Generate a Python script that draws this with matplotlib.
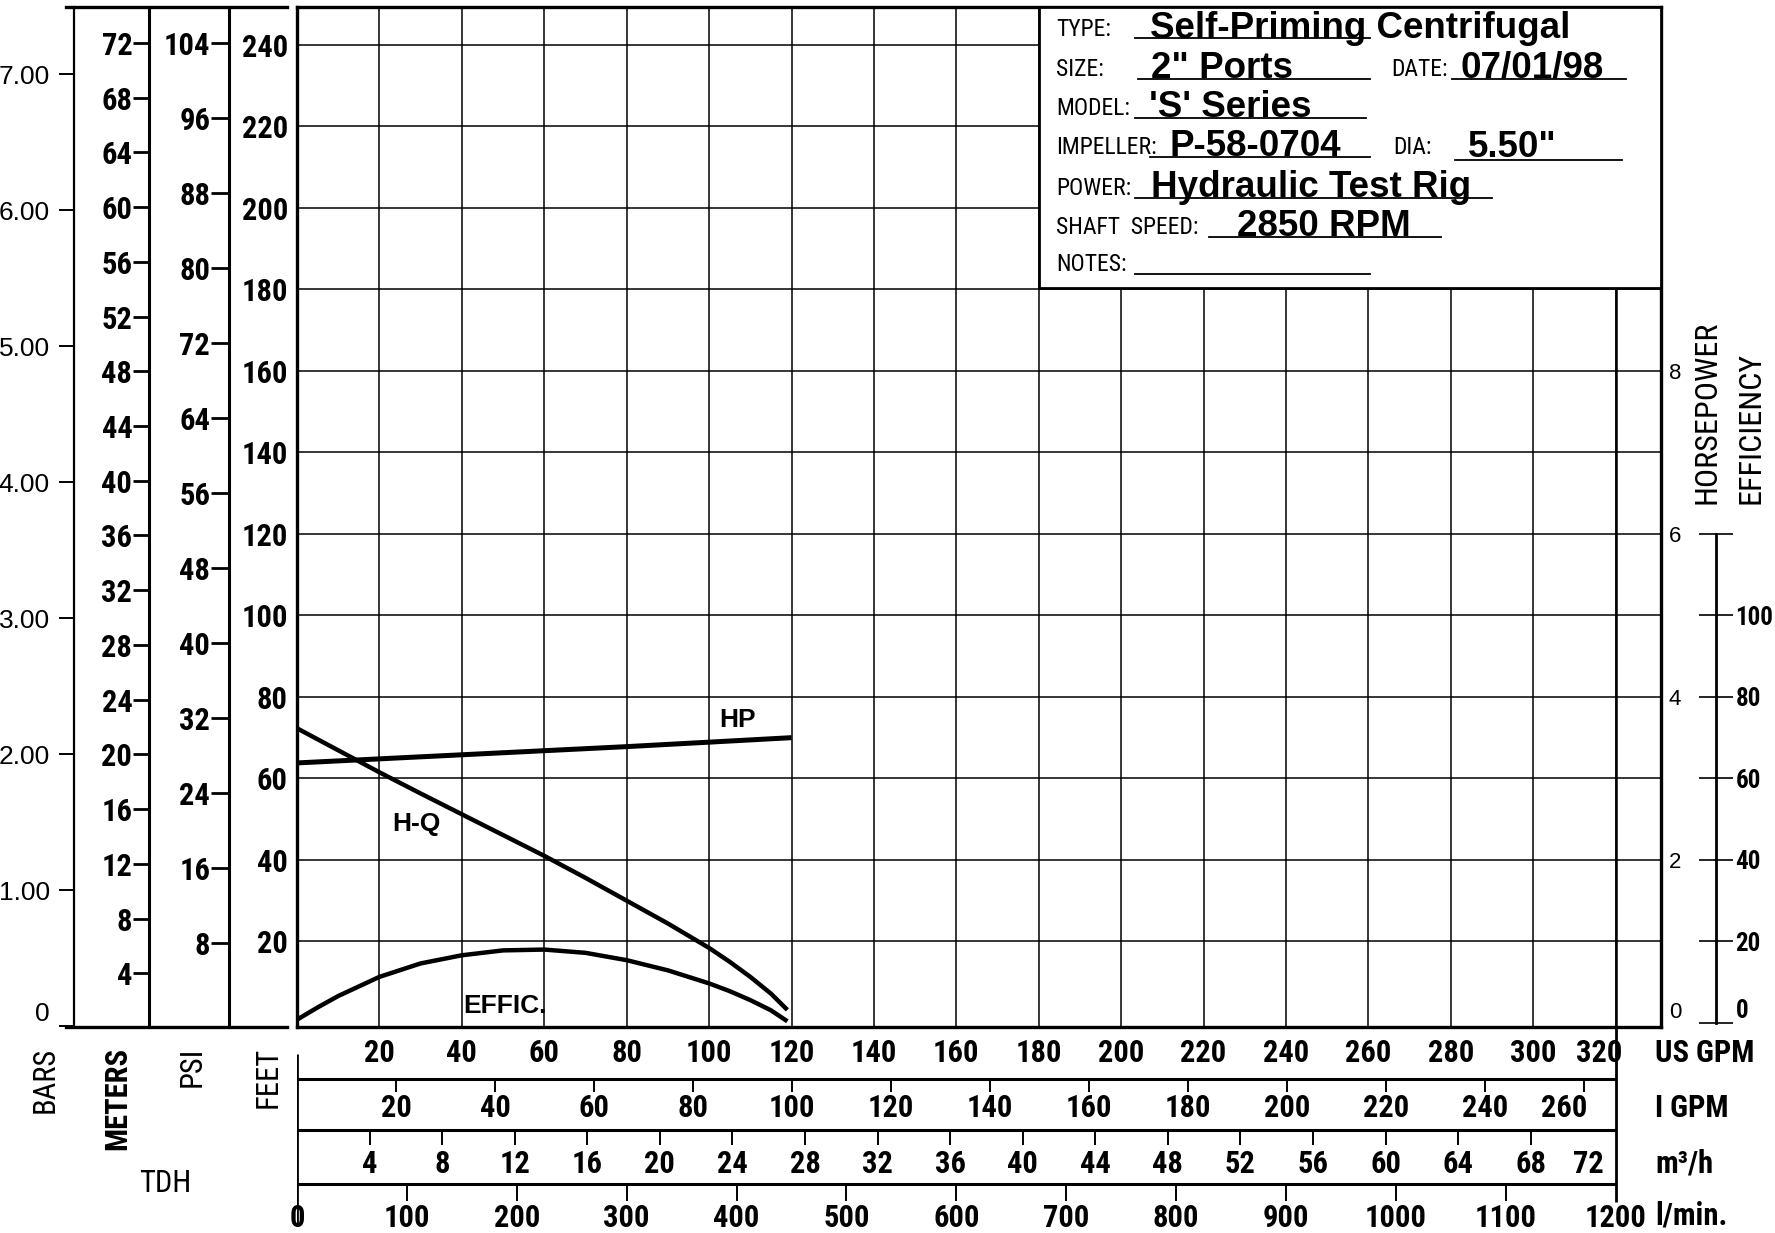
import matplotlib.pyplot as plt
from matplotlib import font_manager as fm

# curves, x in US GPM
hq_gpm = [0, 10, 20, 30, 40, 50, 60, 70, 80, 90, 100, 105, 110, 115, 119]
hq_feet = [72.3, 66.9, 61.5, 56.3, 51.2, 46.1, 41.0, 35.6, 30.0, 24.4, 18.4, 15.0, 11.3, 7.2, 3.2]

hp_gpm = [0, 40, 80, 120]
hp_val = [3.19, 3.29, 3.39, 3.50]

eff_gpm = [0, 5, 10, 20, 30, 40, 50, 60, 70, 80, 90, 100, 105, 110, 115, 119]
eff_pct = [0.8, 3.8, 6.6, 11.3, 14.6, 16.6, 17.8, 18.0, 17.2, 15.4, 12.9, 9.7, 7.8, 5.6, 3.1, 0.4]

# scales
bars_ticks = [0, 1, 2, 3, 4, 5, 6, 7]
meters_ticks = list(range(4, 73, 4))
psi_ticks = list(range(8, 105, 8))
feet_ticks = list(range(20, 241, 20))
hp_ticks = [0, 2, 4, 6, 8]
eff_ticks = [0, 20, 40, 60, 80, 100, 120]
us_gpm_ticks = list(range(20, 321, 20))
imp_gpm_ticks = list(range(20, 261, 20))
m3h_ticks = list(range(4, 73, 4))
lmin_ticks = list(range(0, 1201, 100))

IMP = 1.20095      # US gal per imperial gal
M3H = 4.40287      # US GPM per m3/h
LMIN = 320 / 1200  # the chart ends its l/min scale on the 320 GPM line

info_labels = ["TYPE:", "SIZE:", "MODEL:", "IMPELLER:", "POWER:", "SHAFT  SPEED:", "NOTES:"]
info_values = ["Self-Priming Centrifugal", '2" Ports', "'S' Series", "P-58-0704",
               "Hydraulic Test Rig", "2850 RPM", ""]


def pick_narrow():
    cands = [("Liberation Sans Narrow", "normal"), ("Arial Narrow", "normal"),
             ("Roboto Condensed", "normal"), ("Open Sans Condensed", "normal"),
             ("Noto Sans Condensed", "normal"), ("DejaVu Sans", "condensed"),
             ("Noto Sans", "condensed"), ("Open Sans", "condensed"),
             ("Roboto", "condensed")]
    for fam, st in cands:
        try:
            path = fm.findfont(fm.FontProperties(family=fam, stretch=st),
                               fallback_to_default=False)
        except ValueError:
            continue
        if st == "normal" or "ondensed" in path or "arrow" in path:
            return fam, st, 1.0
    return "Liberation Sans", "normal", 0.86


NARROW, STRETCH, NS = pick_narrow()
WIDE = "Liberation Sans"
plt.rcParams["font.family"] = [NARROW, "DejaVu Sans"]
plt.rcParams["font.stretch"] = STRETCH

W, H = 1775, 1233
fig = plt.figure(figsize=(W / 100, H / 100), dpi=100)


def box(l, t, r, b):
    return [l / W, 1 - b / H, (r - l) / W, (b - t) / H]


L, T, R, B = 297, 7, 1661, 1027
FS = 22 * NS

# main plot (feet of head)
ax = fig.add_axes(box(L, T, R, B))
ax.set_xlim(0, 331)
ax.set_ylim(-1, 249.3)
ax.set_xticks(us_gpm_ticks)
ax.set_yticks(feet_ticks)
ax.grid(True, color="black", lw=1.1)
ax.axvline(320, color="black", lw=1.8)
ax.tick_params(axis="x", length=0, labelbottom=False)
ax.tick_params(axis="y", length=0, pad=6.5, labelsize=FS)
for t in ax.get_yticklabels():
    t.set_fontweight("bold")
for s in ax.spines.values():
    s.set_linewidth(2.4)
ax.plot(hq_gpm, hq_feet, color="black", lw=3.2, solid_capstyle="butt")
for txt, x, y in [("HP", 107, 74.4), ("H-Q", 29.1, 48.8), ("EFFIC.", 50.5, 4.2)]:
    ax.text(x, y, txt, fontsize=19, fontweight="bold", family=WIDE, fontstretch="normal",
            ha="center", va="center")

# horsepower: 1 HP per 20 ft grid step
ax_hp = ax.twinx()
lo, hi = ax.get_ylim()
ax_hp.set_ylim(lo / 20, hi / 20)
for s in ax_hp.spines.values():
    s.set_visible(False)
ax_hp.set_yticks(hp_ticks)
ax_hp.tick_params(axis="y", length=0, pad=5.5, labelsize=16, labelfontfamily=WIDE)
ax_hp.get_yticklabels()[0].set_verticalalignment("bottom")
ax_hp.plot(hp_gpm, hp_val, color="black", lw=3.6, solid_capstyle="butt")

# efficiency: same vertical scale as feet
ax_e = ax.twinx()
ax_e.set_ylim(lo, hi)
for s in ("left", "top", "bottom"):
    ax_e.spines[s].set_visible(False)
ax_e.spines["right"].set_position(("axes", (1716 - L) / (R - L)))
ax_e.spines["right"].set_bounds(0, 120)
ax_e.spines["right"].set_linewidth(2)
ax_e.set_yticks(eff_ticks)
ax_e.set_yticklabels([str(v) for v in eff_ticks[:-1]] + [""])
ax_e.tick_params(axis="y", direction="inout", length=24, width=1.2, pad=2,
                 labelsize=18 * NS)
for t in ax_e.get_yticklabels():
    t.set_fontweight("bold")
ax_e.get_yticklabels()[0].set_verticalalignment("bottom")
ax_e.plot(eff_gpm, eff_pct, color="black", lw=3.2, solid_capstyle="butt")

# info block
ax_i = fig.add_axes(box(1039, T, R, 288))
ax_i.set_xlim(0, R - 1039)
ax_i.set_ylim(288 - T, 0)
ax_i.set_xticks([])
ax_i.set_yticks([])
ax_i.set_facecolor("white")
for s in ax_i.spines.values():
    s.set_linewidth(2)
line_y = [31.5, 72, 111, 150, 191, 230, 267]
line_x = [(96, 331), (99, 331), (96, 327), (111, 331), (96, 453), (170, 402), (96, 331)]
value_x = [111, 112, 110, 130, 112, 198, 0]
big = dict(fontsize=26.5, fontweight="bold", family=WIDE, fontstretch="normal", va="baseline")
small = dict(fontsize=17 * NS, va="baseline")
for lab, val, y, (x0, x1), vx in zip(info_labels, info_values, line_y, line_x, value_x):
    ax_i.text(17, y - 3, lab, **small)
    ax_i.plot([x0, x1], [y, y], color="black", lw=1.3)
    ax_i.text(vx, y - 1, val, **big)
ax_i.text(352, 69, "DATE:", **small)
ax_i.plot([413, 587], [72, 72], color="black", lw=1.3)
ax_i.text(421, 71, "07/01/98", **big)
ax_i.text(354, 147, "DIA:", **small)
ax_i.plot([416, 583], [153, 153], color="black", lw=1.3)
ax_i.text(429, 150, '5.50"', **big)


# left TDH scales
def scale_axis(x, lo, hi):
    a = fig.add_axes(box(x, T, x + 1, B))
    a.set_ylim(lo, hi)
    a.patch.set_visible(False)
    for s in ("top", "right", "bottom"):
        a.spines[s].set_visible(False)
    a.spines["left"].set_linewidth(2.2)
    a.set_xticks([])
    return a


blk = fig.add_axes(box(66, T, 287, B))
blk.patch.set_visible(False)
blk.set_xticks([])
blk.set_yticks([])
blk.spines["left"].set_visible(False)
blk.spines["right"].set_visible(False)
blk.spines["top"].set_linewidth(2.4)
blk.spines["bottom"].set_linewidth(2.4)

ax_bar = scale_axis(74, -0.007, 7.493)
ax_bar.spines["left"].set_linewidth(1.6)
ax_bar.set_yticks(bars_ticks)
ax_bar.set_yticklabels(["0"] + ["%.2f" % v for v in bars_ticks[1:]])
ax_bar.tick_params(axis="y", length=10.8, width=1.4, pad=6.5, labelsize=19,
                   labelfontfamily=WIDE)
ax_bar.get_yticklabels()[0].set_verticalalignment("bottom")

ax_m = scale_axis(149, 0.073, 74.63)
ax_m.set_yticks(meters_ticks)
ax_m.tick_params(axis="y", length=11.5, width=2, pad=0.5, labelsize=FS)

ax_p = scale_axis(229, -0.96, 107.84)
ax_p.set_yticks(psi_ticks)
ax_p.tick_params(axis="y", length=13, width=2, pad=0.5, labelsize=FS)
for a in (ax_m, ax_p):
    for t in a.get_yticklabels():
        t.set_fontweight("bold")

fig.text(45 / W, 1 - 1047 / H, "BARS", rotation=90, ha="center", va="top", fontsize=FS)
fig.text(117 / W, 1 - 1047 / H, "METERS", rotation=90, ha="center", va="top",
         fontsize=FS, fontweight="bold")
fig.text(192 / W, 1 - 1047 / H, "PSI", rotation=90, ha="center", va="top", fontsize=FS)
fig.text(268 / W, 1 - 1047 / H, "FEET", rotation=90, ha="center", va="top", fontsize=FS)
fig.text(165 / W, 1 - 1183 / H, "TDH", ha="center", va="center", fontsize=FS)
fig.text(1707 / W, 1 - 504 / H, "HORSEPOWER", rotation=90, ha="center", va="bottom",
         fontsize=23 * NS)
fig.text(1751 / W, 1 - 504 / H, "EFFICIENCY", rotation=90, ha="center", va="bottom",
         fontsize=23 * NS)

# flow scales under the plot (y in pixel rows)
axb = fig.add_axes(box(L, B, R, H))
axb.set_xlim(ax.get_xlim())
axb.set_ylim(H, B)
axb.axis("off")
axb.hlines([1079, 1130, 1184], 0, 320, color="black", lw=2.2)
axb.vlines(0, 1054, 1226, color="black", lw=2)
axb.vlines(320, B, 1202, color="black", lw=2)
axb.vlines([v * IMP for v in imp_gpm_ticks], 1079, 1092, color="black", lw=1.4)
axb.vlines([v * M3H for v in m3h_ticks[:-1]], 1130, 1145, color="black", lw=1.4)
axb.vlines([v * LMIN for v in lmin_ticks[1:-1]], 1184, 1201, color="black", lw=1.4)

lab = dict(va="center", fontsize=FS, fontweight="bold")
for v in us_gpm_ticks:
    if v == 320:
        axb.text(v + 1.7, 1053, str(v), ha="right", **lab)
    else:
        axb.text(v, 1053, str(v), ha="center", **lab)
for v in imp_gpm_ticks:
    if v == 260:
        axb.text(v * IMP + 1, 1108, str(v), ha="right", **lab)
    else:
        axb.text(v * IMP, 1108, str(v), ha="center", **lab)
for v in m3h_ticks:
    if v == 72:
        axb.text(v * M3H, 1164, str(v), ha="right", **lab)
    else:
        axb.text(v * M3H, 1164, str(v), ha="center", **lab)
for v in lmin_ticks:
    axb.text(v * LMIN, 1218, str(v), ha="center", **lab)

for txt, y in [("US GPM", 1053), ("I GPM", 1108), ("m³/h", 1164), ("l/min.", 1216)]:
    axb.text(329.6, y, txt, ha="left", **lab)

fig.savefig("out.png", dpi=100)
